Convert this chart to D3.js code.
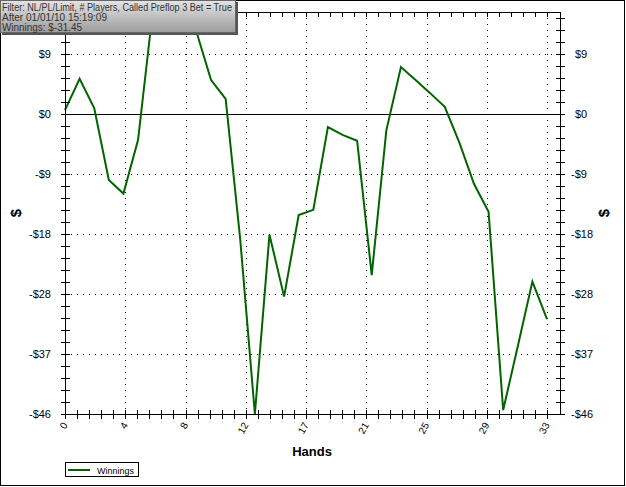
<!DOCTYPE html>
<html><head><meta charset="utf-8">
<script src="https://cdn.jsdelivr.net/npm/d3@7/dist/d3.min.js"></script>
<style>body{margin:0;background:#fff}svg{display:block}</style>
</head><body><svg id="c" width="626" height="487"></svg>
<script>
const hands = d3.range(0, 34);
const winnings = [0.6, 5.4, 0.9, -10.1, -12.2, -4.0, 15.6, 14.8, 13.9, 12.6, 5.2, 2.3, -19.3, -46.0, -18.5, -28.0, -15.5, -14.7, -2.0, -3.2, -4.1, -24.7, -2.5, 7.2, 5.2, 3.2, 1.1, -4.4, -10.7, -15.0, -45.4, -35.6, -25.7, -31.45];
const xTickValues = [0, 4.125, 8.25, 12.375, 16.5, 20.625, 24.75, 28.875, 33];
const xTickLabels = ["0", "4", "8", "12", "17", "21", "25", "29", "33"];
const yTickValues = [9.2, 0, -9.2, -18.4, -27.6, -36.8, -46];
const yTickLabels = ["$9", "$0", "-$9", "-$18", "-$28", "-$37", "-$46"];
const filterLines = ["Filter: NL/PL/Limit, # Players, Called Preflop 3 Bet = True", "After 01/01/10 15:19:09", "Winnings: $-31.45"];
const seriesName = "Winnings";

const svg = d3.select("#c");
const L = 65, R = 560, T = 12, B = 414;
const x = d3.scaleLinear().domain([0, 33]).range([L, 547]);
const y = d3.scaleLinear().domain([-46, 15.64]).range([B, T]);
const xMax = x.invert(R);

const xMinor = d3.range(0, 41).map(k => k * 33 / 40).concat([33.825]).filter(v => v <= xMax - 0.1);
const yMinor = d3.range(0, 34).map(k => -46 + k * 1.84);

const g = svg.append("g").attr("shape-rendering", "crispEdges");
g.selectAll(".hg").data(yTickValues.filter(v => v !== 0 && v !== -46)).enter().append("line")
  .attr("x1", L).attr("x2", R).attr("y1", d => Math.round(y(d)) + 0.5).attr("y2", d => Math.round(y(d)) + 0.5)
  .attr("stroke", "#000").attr("stroke-dasharray", "1,5");
g.selectAll(".vg").data(xTickValues.slice(1)).enter().append("line")
  .attr("y1", T).attr("y2", B).attr("x1", d => Math.round(x(d)) + 0.5).attr("x2", d => Math.round(x(d)) + 0.5)
  .attr("stroke", "#000").attr("stroke-dasharray", "1,5");
g.append("line").attr("x1", L).attr("x2", R).attr("y1", Math.round(y(0)) + 0.5).attr("y2", Math.round(y(0)) + 0.5).attr("stroke", "#000");

const line = d3.line().x((d, i) => x(hands[i])).y(d => y(d));
svg.append("path").datum(winnings).attr("d", line).attr("fill", "none")
  .attr("stroke", "#006400").attr("stroke-width", 2).attr("stroke-linejoin", "miter");

const ax = svg.append("g").attr("shape-rendering", "crispEdges").attr("stroke", "#000");
ax.append("line").attr("x1", L + 0.5).attr("x2", L + 0.5).attr("y1", T).attr("y2", B + 1);
ax.append("line").attr("x1", R + 0.5).attr("x2", R + 0.5).attr("y1", T).attr("y2", B + 1);
ax.append("line").attr("x1", L).attr("x2", R + 1).attr("y1", B + 0.5).attr("y2", B + 0.5);
ax.append("line").attr("x1", L).attr("x2", R + 1).attr("y1", T + 0.5).attr("y2", T + 0.5);
yMinor.forEach(v => {
  const yy = Math.round(y(v)) + 0.5;
  ax.append("line").attr("x1", L - 4).attr("x2", L + 5).attr("y1", yy).attr("y2", yy);
  ax.append("line").attr("x1", R - 4).attr("x2", R + 5).attr("y1", yy).attr("y2", yy);
});
xMinor.forEach(v => {
  const xx = Math.round(x(v)) + 0.5;
  ax.append("line").attr("x1", xx).attr("x2", xx).attr("y1", B - 4).attr("y2", B + 5);
  ax.append("line").attr("x1", xx).attr("x2", xx).attr("y1", T).attr("y2", T + 5);
});

const font = "'Liberation Sans', Arial, sans-serif";
svg.selectAll(".yl").data(yTickValues).enter().append("text")
  .attr("x", 51).attr("y", d => y(d) + 4).attr("text-anchor", "end")
  .attr("font-family", font).attr("font-size", 11).text((d, i) => yTickLabels[i]);
svg.selectAll(".yr").data(yTickValues).enter().append("text")
  .attr("x", d => d < 0 ? 571 : 575).attr("y", d => y(d) + 4).attr("text-anchor", "start")
  .attr("font-family", font).attr("font-size", 11).text((d, i) => yTickLabels[i]);
svg.selectAll(".xl").data(xTickValues).enter().append("text")
  .attr("transform", d => `translate(${x(d) + 3},${425}) rotate(-60)`)
  .attr("text-anchor", "end").attr("font-family", font).attr("font-size", 10)
  .text((d, i) => xTickLabels[i]);

svg.append("text").attr("x", 312).attr("y", 456).attr("text-anchor", "middle")
  .attr("font-family", font).attr("font-weight", "bold").attr("font-size", 13).text("Hands");
svg.append("text").attr("transform", "translate(21,213) rotate(-90)").attr("text-anchor", "middle")
  .attr("font-family", font).attr("font-weight", "bold").attr("font-size", 15).text("$");
svg.append("text").attr("transform", "translate(609,213) rotate(-90)").attr("text-anchor", "middle")
  .attr("font-family", font).attr("font-weight", "bold").attr("font-size", 15).text("$");

const lg = svg.append("g");
lg.append("rect").attr("x", 65.5).attr("y", 462.5).attr("width", 73).attr("height", 14)
  .attr("fill", "#fff").attr("stroke", "#000").attr("shape-rendering", "crispEdges");
lg.append("line").attr("x1", 68).attr("x2", 90).attr("y1", 470).attr("y2", 470).attr("stroke", "#006400").attr("stroke-width", 2);
lg.append("text").attr("x", 97).attr("y", 474).attr("font-family", font).attr("font-size", 9.5)
  .attr("textLength", 37).attr("lengthAdjust", "spacingAndGlyphs").text(seriesName);

svg.append("rect").attr("x", 0.5).attr("y", 0.5).attr("width", 624).attr("height", 485)
  .attr("fill", "none").attr("stroke", "#000").attr("shape-rendering", "crispEdges");

const defs = svg.append("defs");
const gr = defs.append("linearGradient").attr("id", "fg").attr("x1", 0).attr("x2", 0).attr("y1", 0).attr("y2", 1);
gr.append("stop").attr("offset", "0%").attr("stop-color", "#e4e4e4");
gr.append("stop").attr("offset", "100%").attr("stop-color", "#9c9c9c");
svg.append("rect").attr("x", 2).attr("y", 2).attr("width", 236).attr("height", 33).attr("fill", "#555").attr("shape-rendering", "crispEdges");
svg.append("rect").attr("x", 0.5).attr("y", 0.5).attr("width", 235).attr("height", 32)
  .attr("fill", "url(#fg)").attr("stroke", "#666").attr("shape-rendering", "crispEdges");
const lens = [230, 105, 80];
svg.selectAll(".fl").data(filterLines).enter().append("text")
  .attr("x", 2).attr("y", (d, i) => 11 + i * 10).attr("font-family", font).attr("font-size", 10)
  .attr("fill", "#333").attr("textLength", (d, i) => lens[i]).attr("lengthAdjust", "spacingAndGlyphs").text(d => d);
</script></body></html>
